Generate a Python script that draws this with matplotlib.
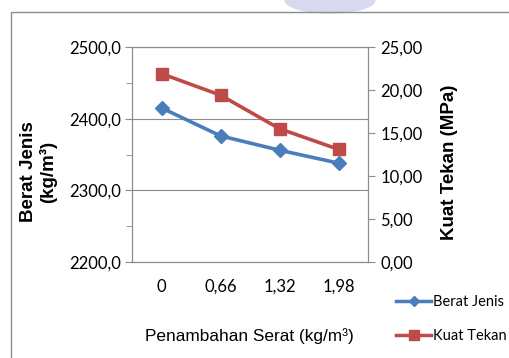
import matplotlib.pyplot as plt
from matplotlib.patches import Ellipse, Rectangle
from matplotlib.lines import Line2D

categories = ["0", "0,66", "1,32", "1,98"]
berat_jenis = [2415, 2376, 2356, 2338]
kuat_tekan = [21.9, 19.4, 15.5, 13.1]

left_ticks = [2200, 2300, 2400, 2500]
right_ticks = [0, 5, 10, 15, 20, 25]

blue = "#4A7EBB"
red = "#BE4B48"
tick_font = "Lato"
label_font = "Liberation Sans"

fig = plt.figure(figsize=(5.1, 3.58), dpi=100)

# watermark blob and chart frame
fig.patches.append(Ellipse((330 / 510, 1 - 0 / 358), 90 / 510, 26 / 358,
                           transform=fig.transFigure, color="#D8D8EE", zorder=0))
fig.patches.append(Rectangle((11 / 510, -0.05), 1.2, 1 - 12 / 358 + 0.05,
                             transform=fig.transFigure, fill=False,
                             edgecolor="#8C8C8C", linewidth=1.0, zorder=1))

ax = fig.add_axes([132 / 510, 1 - 262 / 358, 236 / 510, 215 / 358])
x = list(range(len(categories)))

ax.plot(x, berat_jenis, color=blue, linewidth=2.6, marker="D", markersize=7.5,
        markeredgecolor=blue, zorder=3)
ax.set_xlim(-0.5, len(categories) - 0.5)
ax.set_ylim(2200, 2500)
ax.set_yticks(left_ticks)
ax.set_yticklabels([f"{v:.1f}".replace(".", ",") for v in left_ticks],
                   fontfamily=tick_font, fontsize=12)
ax.set_yticks([2250, 2350, 2450], minor=True)
ax.tick_params(axis="y", which="major", length=5, color="#8C8C8C", pad=3)
ax.tick_params(axis="y", which="minor", length=4, color="#8C8C8C")
ax.set_xticks(x)
ax.set_xticklabels(categories, fontfamily=tick_font, fontsize=12)
ax.tick_params(axis="x", length=0, pad=12)
ax.grid(axis="y", color="#8C8C8C", linewidth=0.8)
ax.set_axisbelow(True)
for s in ax.spines.values():
    s.set_color("#8C8C8C")
    s.set_linewidth(0.8)

fig.text(29 / 510, 1 - 172 / 358, "Berat Jenis", rotation=90, ha="center",
         va="center", fontfamily=label_font, fontweight="bold", fontsize=13.5)
fig.text(48 / 510, 1 - 172 / 358, "(kg/m³)", rotation=90, ha="center",
         va="center", fontfamily=label_font, fontweight="bold", fontsize=13.5)
fig.text(450 / 510, 1 - 162 / 358, "Kuat Tekan (MPa)", rotation=90, ha="center",
         va="center", fontfamily=label_font, fontweight="bold", fontsize=13.5)
fig.text(249 / 510, 1 - 336 / 358, "Penambahan Serat (kg/m³)", ha="center",
         va="center", fontfamily=label_font, fontsize=12.4)

ax2 = ax.twinx()
ax2.plot(x, kuat_tekan, color=red, linewidth=2.6, marker="s", markersize=9,
         markeredgecolor=red, zorder=3)
ax2.set_ylim(0, 25)
ax2.set_yticks(right_ticks)
ax2.set_yticklabels([f"{v:.2f}".replace(".", ",") for v in right_ticks],
                    fontfamily=tick_font, fontsize=12)
ax2.tick_params(axis="y", length=5, color="#8C8C8C", pad=4)
for s in ax2.spines.values():
    s.set_color("#8C8C8C")
    s.set_linewidth(0.8)

handles = [
    Line2D([], [], color=blue, linewidth=2.5, marker="D", markersize=5.5),
    Line2D([], [], color=red, linewidth=2.5, marker="s", markersize=7),
]
fig.legend(handles, ["Berat Jenis", "Kuat Tekan"], loc="lower left",
           bbox_to_anchor=(383 / 510, 2 / 358), frameon=False,
           prop={"family": tick_font, "size": 10.5}, labelspacing=1.35,
           handlelength=2.4, handletextpad=0.1)

fig.savefig("out.png", dpi=100)
